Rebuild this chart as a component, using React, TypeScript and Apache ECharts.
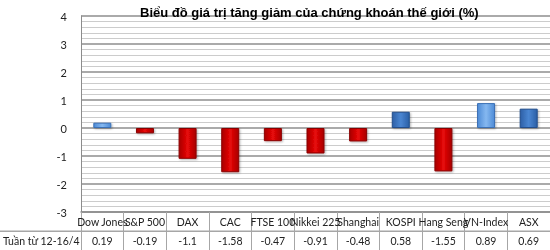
import React, { useEffect, useRef } from "react";
import * as echarts from "echarts";

const titleText = "Biểu đồ giá trị tăng giảm của chứng khoán thế giới (%)";
const rowHeader = "Tuần từ 12-16/4";
const categories = ["Dow Jones", "S&P 500", "DAX", "CAC", "FTSE 100", "Nikkei 225", "Shanghai", "KOSPI", "Hang Seng", "VN-Index", "ASX"];
const values = [0.19, -0.19, -1.1, -1.58, -0.47, -0.91, -0.48, 0.58, -1.55, 0.89, 0.69];
const valueLabels = ["0.19", "-0.19", "-1.1", "-1.58", "-0.47", "-0.91", "-0.48", "0.58", "-1.55", "0.89", "0.69"];
const yTicks = [-3, -2, -1, 0, 1, 2, 3, 4];
const lightBlueNames = ["Dow Jones", "VN-Index"];

const grad = (edge: string, mid: string) =>
  new echarts.graphic.LinearGradient(0, 0, 1, 0, [
    { offset: 0, color: edge },
    { offset: 0.5, color: mid },
    { offset: 1, color: edge },
  ]);

export default function App() {
  const ref = useRef<HTMLDivElement>(null);
  useEffect(() => {
    if (!ref.current) return;
    const chart = echarts.init(ref.current, undefined, { renderer: "svg" });
    const font = "Lato, 'Open Sans', sans-serif";
    const data = values.map((v, i) => {
      let color: any;
      let border: string;
      if (v < 0) {
        color = grad("#a80000", "#e80808");
        border = "#8a0000";
      } else if (lightBlueNames.includes(categories[i])) {
        color = grad("#4d8bd6", "#85b8f0");
        border = "#3a70b5";
      } else {
        color = grad("#2c5fa6", "#4a86d2");
        border = "#234e8c";
      }
      return {
        value: v,
        itemStyle: {
          color,
          borderColor: border,
          borderWidth: 1,
          shadowBlur: 2,
          shadowColor: "rgba(0,0,0,0.3)",
          shadowOffsetX: 1,
          shadowOffsetY: 1,
        },
      };
    });
    chart.setOption({
      animation: false,
      title: {
        text: titleText,
        left: 135,
        top: 1,
        textStyle: { fontFamily: "'Liberation Sans', Arial, sans-serif", fontSize: 13, fontWeight: "bold", color: "#000" },
      },
      grid: { left: 81, right: -4, top: 16, bottom: 38 },
      xAxis: [
        {
          type: "category",
          data: categories,
          position: "bottom",
          axisLine: { show: true, onZero: false, lineStyle: { color: "#8c8c8c", width: 1.5 } },
          axisTick: { show: true, length: 38, interval: 0, lineStyle: { color: "#a6a6a6" } },
          axisLabel: { interval: 0, hideOverlap: false, margin: 4, fontSize: 10.5, fontFamily: font, color: "#222" },
          splitLine: { show: false },
        },
        {
          type: "category",
          data: categories,
          position: "bottom",
          offset: 19,
          axisLine: { show: false, onZero: false },
          axisTick: { show: false },
          splitLine: { show: false },
          axisLabel: {
            interval: 0,
            hideOverlap: false,
            margin: 4,
            fontSize: 10.5,
            fontFamily: font,
            color: "#222",
            formatter: (_v: string, i: number) => valueLabels[i],
          },
        },
      ],
      yAxis: {
        type: "value",
        min: yTicks[0],
        max: yTicks[yTicks.length - 1],
        interval: 1,
        axisLine: { show: true, lineStyle: { color: "#8c8c8c" } },
        axisTick: { show: false },
        axisLabel: { margin: 14, fontSize: 11, fontFamily: font, color: "#222" },
        splitLine: { show: true, lineStyle: { color: "#8e8e8e", width: 1.5 } },
        minorTick: { show: false, splitNumber: 5 },
        minorSplitLine: { show: true, lineStyle: { color: "#cccccc", width: 1.2 } },
      },
      series: [
        {
          type: "bar",
          data,
          barWidth: 18,
          z: 5,
        },
      ],
      graphic: [
        {
          type: "rect",
          shape: { x: 0, y: 230.5, width: 550, height: 1.5 },
          style: { fill: "#a6a6a6" },
        },
        {
          type: "text",
          x: 3,
          y: 241,
          style: { text: rowHeader, font: `10.5px ${font}`, fill: "#222", verticalAlign: "middle", textAlign: "left" },
        },
      ],
    });
    return () => chart.dispose();
  }, []);
  return (
    <div
      ref={ref}
      style={{ position: "fixed", left: 0, top: 0, width: 550, height: 250 }}
    />
  );
}
